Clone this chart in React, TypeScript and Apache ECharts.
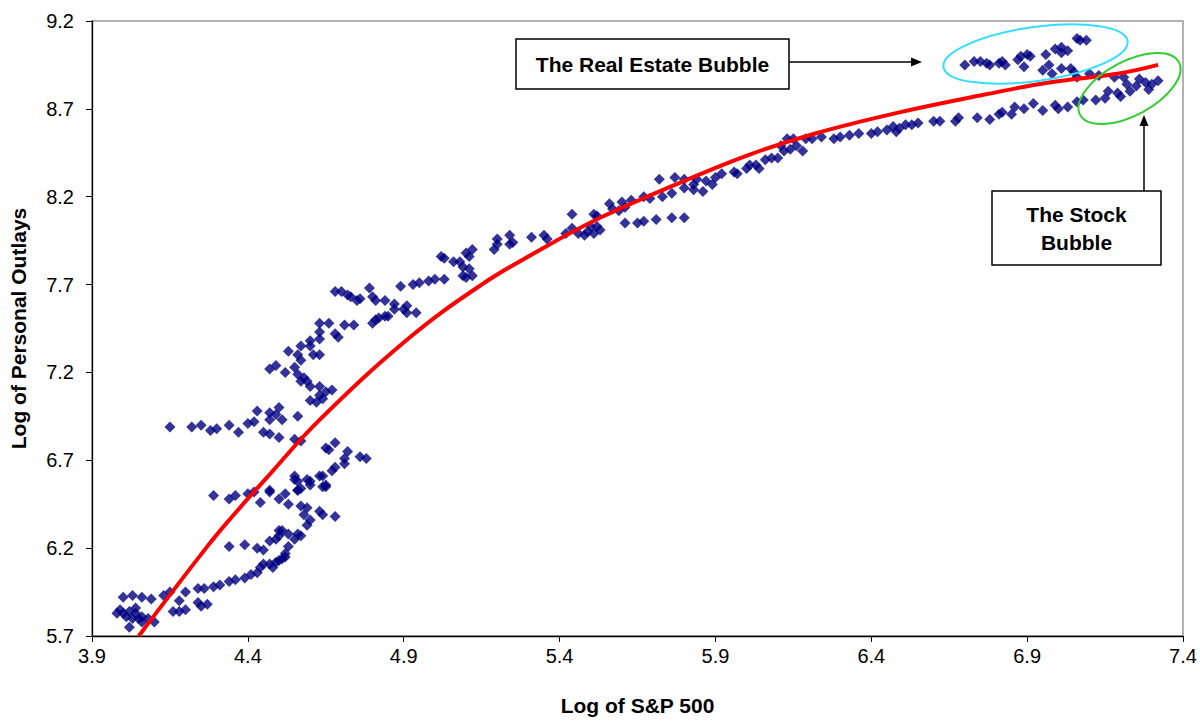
import React, { useEffect, useRef } from "react";
import * as echarts from "echarts";

// Log of S&P 500 (x) and Log of Personal Outlays (y)
const bottomLeft: number[][] = [
  [4.00, 5.92], [4.03, 5.93], [4.06, 5.92], [4.09, 5.91], [3.98, 5.83], [4.00, 5.83], [4.02, 5.84], [4.04, 5.83],
  [4.03, 5.80], [4.05, 5.80], [4.06, 5.81], [4.06, 5.78], [4.02, 5.75], [4.08, 5.80], [4.10, 5.78], [4.01, 5.81],
  [4.04, 5.86], [3.99, 5.85],
];
const lowerBranch: number[][] = [
  [4.13, 5.93], [4.15, 5.95], [4.20, 5.95], [4.18, 5.90], [4.16, 5.84], [4.18, 5.84], [4.20, 5.85], [4.24, 5.89],
  [4.25, 5.87], [4.27, 5.88], [4.24, 5.97], [4.26, 5.97], [4.29, 5.98], [4.31, 5.99], [4.34, 6.01], [4.36, 6.02],
  [4.39, 6.03], [4.41, 6.05], [4.43, 6.06], [4.44, 6.09], [4.45, 6.11], [4.47, 6.11], [4.48, 6.09], [4.49, 6.12],
  [4.50, 6.13], [4.51, 6.14], [4.52, 6.15], [4.43, 6.20], [4.45, 6.19], [4.47, 6.24], [4.49, 6.25], [4.50, 6.27],
  [4.50, 6.30], [4.51, 6.30], [4.53, 6.28], [4.55, 6.25], [4.56, 6.28], [4.53, 6.21], [4.52, 6.17], [4.34, 6.21],
  [4.39, 6.22], [4.57, 6.27],
];
const midLower: number[][] = [
  [4.29, 6.50], [4.34, 6.48], [4.36, 6.50], [4.40, 6.51], [4.42, 6.52], [4.44, 6.46], [4.47, 6.52], [4.50, 6.48],
  [4.52, 6.51], [4.53, 6.45], [4.56, 6.53], [4.57, 6.44], [4.59, 6.43], [4.60, 6.36], [4.59, 6.33], [4.63, 6.41],
  [4.64, 6.39], [4.68, 6.38], [4.65, 6.56], [4.60, 6.58], [4.55, 6.59], [4.57, 6.54], [4.64, 6.55], [4.58, 6.39],
  [4.47, 6.53], [4.65, 6.77], [4.68, 6.80], [4.66, 6.76], [4.72, 6.75], [4.71, 6.71], [4.76, 6.72], [4.78, 6.71],
  [4.71, 6.68], [4.68, 6.66], [4.67, 6.64], [4.64, 6.61], [4.63, 6.61], [4.55, 6.61], [4.56, 6.58], [4.59, 6.59],
  [4.60, 6.56], [4.65, 6.55], [4.56, 6.53],
];
const flatRow: number[][] = [
  [4.15, 6.89], [4.22, 6.89], [4.25, 6.90], [4.28, 6.87], [4.30, 6.88], [4.34, 6.90], [4.37, 6.86], [4.40, 6.91],
  [4.42, 6.92], [4.43, 6.98], [4.47, 6.97], [4.47, 6.93], [4.49, 6.96], [4.50, 7.00], [4.51, 6.93], [4.56, 6.95],
  [4.45, 6.86], [4.47, 6.85], [4.50, 6.83], [4.55, 6.82], [4.57, 6.81],
];
const middleCluster: number[][] = [
  [4.63, 7.48], [4.66, 7.48], [4.71, 7.47], [4.74, 7.47], [4.68, 7.42], [4.69, 7.40], [4.63, 7.43], [4.60, 7.38],
  [4.63, 7.39], [4.60, 7.35], [4.57, 7.35], [4.53, 7.32], [4.56, 7.30], [4.61, 7.30], [4.63, 7.30], [4.57, 7.27],
  [4.49, 7.24], [4.47, 7.22], [4.52, 7.20], [4.55, 7.23], [4.56, 7.19], [4.58, 7.17], [4.59, 7.15], [4.57, 7.15],
  [4.60, 7.12], [4.63, 7.12], [4.67, 7.10], [4.65, 7.09], [4.63, 7.07], [4.60, 7.04], [4.62, 7.03], [4.64, 7.05],
];
const upperLeft: number[][] = [
  [4.68, 7.66], [4.70, 7.66], [4.72, 7.64], [4.76, 7.62], [4.79, 7.68], [4.80, 7.63], [4.81, 7.61], [4.84, 7.61],
  [4.87, 7.59], [4.89, 7.69], [4.90, 7.56], [4.87, 7.56], [4.84, 7.52], [4.81, 7.50], [4.80, 7.48], [4.73, 7.63],
  [4.75, 7.61], [4.91, 7.58], [4.91, 7.54], [4.94, 7.54], [4.85, 7.52], [4.82, 7.51],
  [4.93, 7.70], [4.95, 7.71], [4.98, 7.72], [5.00, 7.73], [5.03, 7.73], [5.02, 7.86], [5.03, 7.85], [5.06, 7.83],
  [5.08, 7.83], [5.10, 7.88], [5.12, 7.90], [5.11, 7.86], [5.09, 7.80], [5.11, 7.79], [5.09, 7.75], [5.10, 7.74],
  [5.12, 7.75],
];
const middleBand: number[][] = [
  [5.19, 7.90], [5.20, 7.96], [5.20, 7.93], [5.24, 7.98], [5.25, 7.94], [5.24, 7.93], [5.31, 7.97], [5.35, 7.98],
  [5.36, 7.96], [5.44, 8.10], [5.44, 8.02], [5.42, 7.99], [5.46, 7.99], [5.49, 8.00], [5.51, 8.10], [5.51, 7.99],
  [5.52, 8.03], [5.48, 7.98], [5.52, 8.09], [5.50, 8.03], [5.53, 8.01], [5.56, 8.16], [5.57, 8.13], [5.59, 8.12],
  [5.60, 8.17], [5.61, 8.14], [5.63, 8.18], [5.61, 8.05], [5.65, 8.05], [5.67, 8.06], [5.71, 8.07], [5.76, 8.08],
  [5.80, 8.08],
];
const upperBand: number[][] = [
  [5.67, 8.20], [5.69, 8.19], [5.72, 8.30], [5.73, 8.20], [5.76, 8.22], [5.77, 8.31], [5.80, 8.30], [5.80, 8.25],
  [5.83, 8.27], [5.83, 8.24], [5.86, 8.23], [5.84, 8.30], [5.87, 8.29], [5.89, 8.27], [5.90, 8.31], [5.92, 8.33],
  [5.96, 8.34], [5.97, 8.33], [6.00, 8.36], [6.01, 8.38], [6.03, 8.38], [6.04, 8.36], [6.06, 8.41], [6.08, 8.42],
  [6.10, 8.42], [6.12, 8.46], [6.11, 8.49], [6.14, 8.47], [6.15, 8.53], [6.13, 8.53], [6.16, 8.49], [6.18, 8.46],
  [6.19, 8.53], [6.21, 8.53], [6.24, 8.54], [6.28, 8.53], [6.30, 8.54], [6.33, 8.55], [6.36, 8.56], [6.40, 8.56],
  [6.42, 8.57], [6.45, 8.58], [6.47, 8.60], [6.48, 8.57], [6.49, 8.59], [6.51, 8.61], [6.53, 8.61], [6.55, 8.62],
  [6.60, 8.63], [6.62, 8.63], [6.67, 8.63], [6.68, 8.65], [6.74, 8.65], [6.78, 8.64], [6.81, 8.67], [6.82, 8.68],
  [6.85, 8.67], [6.86, 8.71], [6.89, 8.70], [6.92, 8.73], [6.95, 8.69], [6.99, 8.72], [7.00, 8.70], [7.03, 8.71],
  [7.06, 8.74], [7.08, 8.75],
];
const realEstate: number[][] = [
  [6.70, 8.95], [6.73, 8.97], [6.75, 8.97], [6.77, 8.96], [6.78, 8.95], [6.81, 8.96], [6.82, 8.97], [6.83, 8.95],
  [6.87, 8.98], [6.88, 9.00], [6.90, 9.01], [6.91, 9.00], [6.89, 8.94], [6.96, 9.01], [6.99, 9.04], [7.01, 9.05],
  [7.01, 9.02], [7.03, 9.03], [7.06, 9.10], [7.07, 9.09], [7.09, 9.09], [6.97, 8.95], [6.95, 8.92], [6.98, 8.90],
  [7.01, 8.93], [7.04, 8.93], [7.05, 8.91], [7.06, 8.88], [7.10, 8.90], [7.13, 8.89],
];
const stockBubble: number[][] = [
  [7.12, 8.75], [7.15, 8.76], [7.16, 8.80], [7.19, 8.79], [7.20, 8.77], [7.18, 8.88], [7.21, 8.88], [7.22, 8.84],
  [7.23, 8.80], [7.25, 8.83], [7.26, 8.87], [7.28, 8.85], [7.29, 8.81], [7.30, 8.84], [7.32, 8.86],
];
// red trend curve
const trendX = [4.05, 4.27, 4.35, 4.46, 4.63, 4.92, 5.15, 5.31, 5.53, 5.80, 6.01, 6.22, 6.49, 6.76, 6.97, 7.19, 7.32];
const trendY = [5.70, 6.21, 6.38, 6.60, 6.93, 7.40, 7.70, 7.87, 8.08, 8.29, 8.44, 8.56, 8.68, 8.78, 8.85, 8.90, 8.95];

const FONT = '"Liberation Sans", Arial, sans-serif';

export default function App() {
  const ref = useRef<HTMLDivElement>(null);
  useEffect(() => {
    if (!ref.current) return;
    const chart = echarts.init(ref.current, null, { renderer: "svg" });
    const points = [
      ...bottomLeft, ...lowerBranch, ...midLower, ...flatRow, ...middleCluster,
      ...upperLeft, ...middleBand, ...upperBand, ...realEstate, ...stockBubble,
    ];
    const trend = trendX.map((x, i) => [x, trendY[i]]);
    chart.setOption({
      animation: false,
      backgroundColor: "#ffffff",
      grid: {
        left: 92, right: 17, top: 21, bottom: 81,
        show: true, borderColor: "#999999", borderWidth: 1.5, backgroundColor: "transparent",
      },
      xAxis: {
        type: "value", min: 3.9, max: 7.4, interval: 0.5,
        name: "Log of S&P 500", nameLocation: "middle", nameGap: 59,
        nameTextStyle: { fontFamily: FONT, fontWeight: "bold", fontSize: 21, color: "#000" },
        axisLine: { show: true, lineStyle: { color: "#000", width: 1.3 } },
        axisTick: { show: true, inside: false, length: 6, lineStyle: { color: "#000" } },
        axisLabel: { fontFamily: FONT, fontSize: 20, color: "#000", margin: 10, formatter: (v: number) => v.toFixed(1) },
        splitLine: { show: false },
      },
      yAxis: {
        type: "value", min: 5.7, max: 9.2, interval: 0.5,
        name: "Log of Personal Outlays", nameLocation: "middle", nameGap: 63,
        nameTextStyle: { fontFamily: FONT, fontWeight: "bold", fontSize: 21, color: "#000" },
        axisLine: { show: true, lineStyle: { color: "#000", width: 1.3 } },
        axisTick: { show: true, inside: false, length: 6, lineStyle: { color: "#000" } },
        axisLabel: { fontFamily: FONT, fontSize: 20, color: "#000", margin: 18, formatter: (v: number) => v.toFixed(1) },
        splitLine: { show: false },
      },
      series: [
        {
          type: "scatter", data: points, symbol: "diamond", symbolSize: 11,
          itemStyle: { color: "#000080" }, z: 2,
        },
        {
          type: "line", data: trend, smooth: 0.4, showSymbol: false, symbol: "none",
          lineStyle: { color: "#FF0000", width: 4 }, z: 3,
        },
      ],
      graphic: [
        { type: "rect", shape: { x: 516, y: 39, width: 273, height: 50 }, style: { fill: "#fff", stroke: "#000", lineWidth: 1.5 }, z: 10 },
        { type: "text", x: 652.5, y: 64, style: { text: "The Real Estate Bubble", font: `bold 21px ${FONT}`, fill: "#000", align: "center", verticalAlign: "middle" }, z: 11 },
        { type: "line", shape: { x1: 789, y1: 62, x2: 915, y2: 62 }, style: { stroke: "#000", lineWidth: 1.5 }, z: 10 },
        { type: "polygon", shape: { points: [[922, 62], [911, 57.5], [911, 66.5]] }, style: { fill: "#000" }, z: 10 },
        { type: "ellipse", x: 1035.5, y: 54, rotation: 0.14, shape: { cx: 0, cy: 0, rx: 93, ry: 27 }, style: { fill: "none", stroke: "#33DDFF", lineWidth: 2 }, z: 10 },
        { type: "ellipse", x: 1129.5, y: 88.5, rotation: 0.49, shape: { cx: 0, cy: 0, rx: 56, ry: 27 }, style: { fill: "none", stroke: "#33CC33", lineWidth: 2 }, z: 10 },
        { type: "rect", shape: { x: 992, y: 191, width: 169, height: 74 }, style: { fill: "#fff", stroke: "#000", lineWidth: 1.5 }, z: 10 },
        { type: "text", x: 1076.5, y: 228, style: { text: "The Stock\nBubble", font: `bold 21px ${FONT}`, lineHeight: 28, fill: "#000", align: "center", verticalAlign: "middle" }, z: 11 },
        { type: "line", shape: { x1: 1144, y1: 191, x2: 1144, y2: 122 }, style: { stroke: "#000", lineWidth: 1.5 }, z: 10 },
        { type: "polygon", shape: { points: [[1144, 115], [1139.5, 126], [1148.5, 126]] }, style: { fill: "#000" }, z: 10 },
      ],
    });
    return () => chart.dispose();
  }, []);
  return <div ref={ref} style={{ position: "absolute", left: 0, top: 0, width: 1200, height: 721 }} />;
}
